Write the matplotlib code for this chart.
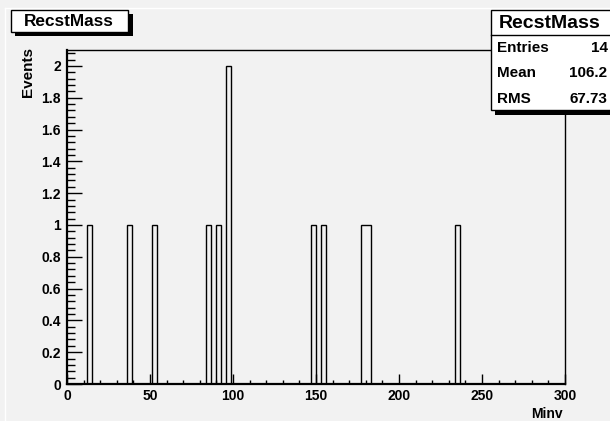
import matplotlib
matplotlib.use('Agg')
import matplotlib.pyplot as plt
from matplotlib.patches import Rectangle
from matplotlib.ticker import MultipleLocator
import numpy as np

# bin centres (3 GeV bins from 0 to 300) and their contents
bin_centers = [13.5, 37.5, 52.5, 85.5, 91.5, 97.5, 148.5, 154.5, 178.5, 181.5, 235.5]
bin_counts = [1, 1, 1, 1, 1, 2, 1, 1, 1, 1, 1]
bin_edges = np.arange(0, 301, 3)

hist_title = "RecstMass"
x_title = "Minv"
y_title = "Events"
stat_names = ["Entries", "Mean", "RMS"]
stat_values = ["14", "106.2", "67.73"]

W, H = 610, 421
bg = '#f2f2f2'
plt.rcParams['font.family'] = ['Liberation Sans', 'DejaVu Sans']
plt.rcParams['font.weight'] = 'bold'

fig = plt.figure(figsize=(W / 100, H / 100), dpi=100, facecolor=bg)

def px(x0, y0, x1, y1):
    return [x0 / W, 1 - y1 / H, (x1 - x0) / W, (y1 - y0) / H]

ax = fig.add_axes(px(67, 50, 565, 384))
ax.set_facecolor(bg)

counts, _ = np.histogram(bin_centers, bins=bin_edges, weights=bin_counts)
ax.stairs(counts, bin_edges, color='black', linewidth=1.0)

ax.set_xlim(0, 300)
ax.set_ylim(0, 2.1)
ax.xaxis.set_major_locator(MultipleLocator(50))
ax.xaxis.set_minor_locator(MultipleLocator(10))
ax.yaxis.set_minor_locator(MultipleLocator(0.04))
ax.set_yticks([0, 0.2, 0.4, 0.6, 0.8, 1, 1.2, 1.4, 1.6, 1.8, 2])
ax.set_yticklabels(['0', '0.2', '0.4', '0.6', '0.8', '1', '1.2', '1.4', '1.6', '1.8', '2'])
ax.tick_params(axis='x', which='major', direction='in', length=7, width=1.0, pad=3.5, labelsize=10)
ax.tick_params(axis='x', which='minor', direction='in', length=3, width=1.0)
ax.tick_params(axis='y', which='major', direction='in', length=10.5, width=1.0, pad=4.5, labelsize=10)
ax.tick_params(axis='y', which='minor', direction='in', length=5.5, width=1.0)
for s in ax.spines.values():
    s.set_linewidth(1.0)
ax.spines['bottom'].set_linewidth(1.6)
ax.spines['left'].set_linewidth(1.6)

fig.text(28 / W, 1 - 47 / H, y_title, rotation=90, ha='center', va='top',
         fontsize=11, fontweight='bold')
fig.text(563 / W, 1 - 407 / H, x_title, ha='right', va='top',
         fontsize=10, fontweight='bold')

# overlay in pixel coordinates for the title and stats boxes
ov = fig.add_axes([0, 0, 1, 1], zorder=10)
ov.set_xlim(0, W)
ov.set_ylim(H, 0)
ov.axis('off')
ov.patch.set_alpha(0)

# canvas edge highlight
ov.plot([5, W], [8, 8], color='white', linewidth=1.0)
ov.plot([5, 5], [8, H], color='white', linewidth=1.0)

# title box
ov.add_patch(Rectangle((15, 14), 118, 22, facecolor='black', edgecolor='none'))
ov.add_patch(Rectangle((11, 10), 117, 22, facecolor='white', edgecolor='black', linewidth=1.0))
ov.text(69, 21, hist_title, ha='center', va='center', fontsize=12.4, fontweight='bold')

# stats box (runs off the right edge of the canvas)
ov.add_patch(Rectangle((495, 14), 130, 101, facecolor='black', edgecolor='none'))
ov.add_patch(Rectangle((491, 9.5), 130, 100.5, facecolor='white', edgecolor='black', linewidth=1.0))
ov.plot([491, 615], [35, 35], color='black', linewidth=1.0)
ov.text(550, 23, hist_title, ha='center', va='center', fontsize=14, fontweight='bold')
for name, val, yy in zip(stat_names, stat_values, [48, 73, 99]):
    ov.text(497, yy, name, ha='left', va='center', fontsize=11, fontweight='bold')
    ov.text(607.5, yy, val, ha='right', va='center', fontsize=11, fontweight='bold')

fig.savefig('out.png', dpi=100, facecolor=bg)
